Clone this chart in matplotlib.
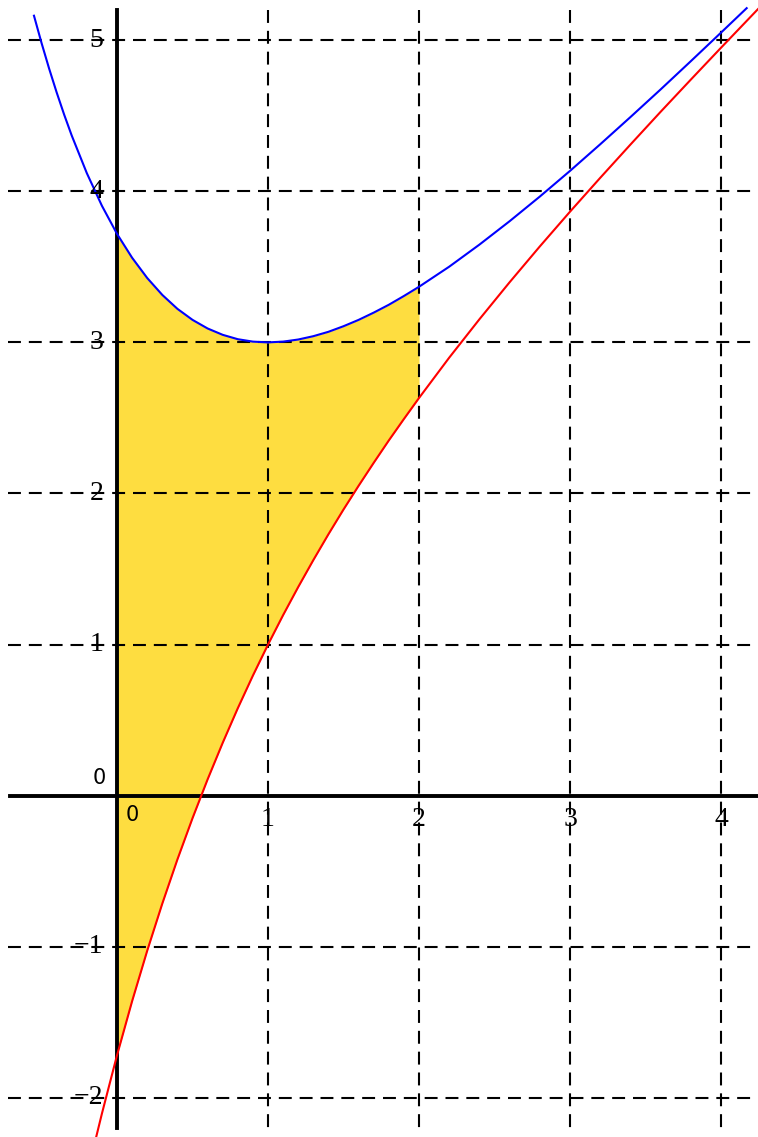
import numpy as np
import matplotlib
matplotlib.use("Agg")
import matplotlib.pyplot as plt

# values
blue_x = [-0.55, -0.5, -0.45, -0.4, -0.35, -0.3, -0.2, -0.1, 0.0, 0.1, 0.2, 0.3, 0.4, 0.5, 0.6, 0.7,
          0.8, 0.9, 1.0, 1.1, 1.2, 1.3, 1.4, 1.5, 1.6, 1.7, 1.8, 1.9, 2.0, 2.2, 2.4, 2.6,
          2.8, 3.0, 3.2, 3.4, 3.6, 3.8, 4.0, 4.17]
blue_y = [5.162, 4.982, 4.813, 4.655, 4.507, 4.369, 4.120, 3.904, 3.718, 3.560, 3.426, 3.314, 3.222,
          3.149, 3.092, 3.050, 3.021, 3.005, 3.000, 3.005, 3.019, 3.041, 3.070, 3.107, 3.149, 3.197,
          3.249, 3.307, 3.368, 3.501, 3.647, 3.802, 3.965, 4.135, 4.311, 4.491, 4.674, 4.861, 5.050, 5.212]

red_x = [-0.15, -0.1, 0.0, 0.1, 0.2, 0.3, 0.4, 0.5, 0.6, 0.7, 0.8, 0.9,
         1.0, 1.1, 1.2, 1.3, 1.4, 1.5, 1.6, 1.7, 1.8, 1.9, 2.0, 2.2, 2.4, 2.6, 2.8, 3.0,
         3.2, 3.4, 3.6, 3.8, 4.0, 4.27]
red_y = [-2.308, -2.104, -1.718, -1.360, -1.026, -0.714, -0.422, -0.149, 0.108, 0.350, 0.579, 0.795,
         1.000, 1.195, 1.381, 1.559, 1.730, 1.894, 2.051, 2.203, 2.351, 2.493, 2.632, 2.899, 3.153,
         3.398, 3.635, 3.865, 4.089, 4.309, 4.526, 4.739, 4.950, 5.232]

fill_from, fill_to = 0, 2
x_ticks = [1, 2, 3, 4]
y_ticks = [-2, -1, 1, 2, 3, 4, 5]

fig = plt.figure(figsize=(7.58, 11.37), dpi=100)
ax = fig.add_axes([0, 0, 1, 1])
ax.set_xlim(-0.775, 4.245)
ax.set_ylim(-2.259, 5.266)
ax.axis("off")

# shaded area between the two curves
bx = np.array(blue_x)
rx = np.array(red_x)
bm = (bx >= fill_from) & (bx <= fill_to)
rm = (rx >= fill_from) & (rx <= fill_to)
ax.fill_between(bx[bm], np.array(red_y)[rm], np.array(blue_y)[bm],
                color="#FEDD40", lw=0, zorder=1)

# dashed grid
dash = dict(color="black", lw=1.5, linestyle=(0, (6.2, 3.8)), zorder=2)
for yv in y_ticks:
    ax.plot([-0.72, 4.245], [yv, yv], **dash)
for xv in x_ticks:
    ax.plot([xv, xv], [5.20, -2.23], **dash)

# axes
ax.plot([-0.71, 4.245], [0, 0], color="black", lw=2.8, zorder=3)
ax.plot([0, 0], [5.20, -2.20], color="black", lw=2.8, zorder=3)

# curves
ax.plot(blue_x, blue_y, color="blue", lw=1.5, zorder=4)
ax.plot(red_x, red_y, color="red", lw=1.5, zorder=4)

# tick labels
lab = dict(fontsize=20, family="Liberation Serif", color="black", zorder=5)
for xv in x_ticks:
    ax.text(xv, -0.16, str(xv), ha="center", va="center", **lab)
for yv in y_ticks:
    ax.text(-0.09, yv, str(yv).replace("-", "\u2212"), ha="right", va="center", **lab)
ax.text(0.1, -0.13, "0", ha="center", va="center", fontsize=15, family="DejaVu Sans", zorder=5)
ax.text(-0.12, 0.115, "0", ha="center", va="center", fontsize=15, family="DejaVu Sans", zorder=5)

fig.savefig("out.png", dpi=100)
